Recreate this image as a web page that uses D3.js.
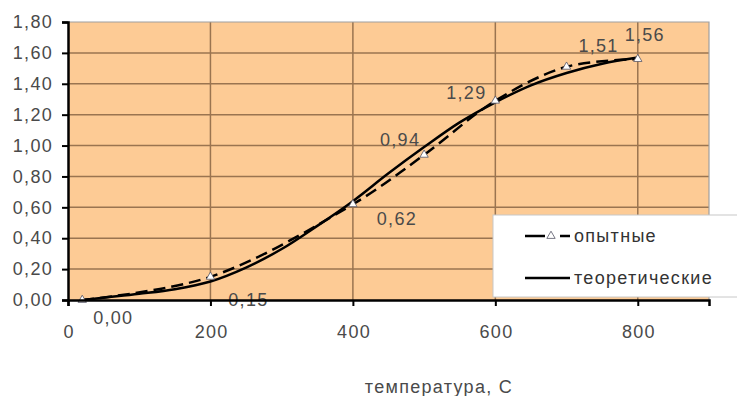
<!DOCTYPE html>
<html><head><meta charset="utf-8">
<script src="https://cdn.jsdelivr.net/npm/d3@7"></script>
<style>
body{margin:0;background:#fff;}
text{font-family:"Liberation Sans",Arial,sans-serif;letter-spacing:1.3px;}
</style></head>
<body><svg id="c" width="737" height="396"></svg>
<script>
// Data
const expX = [20, 200, 400, 500, 600, 700, 800];
const expY = [0.00, 0.15, 0.62, 0.94, 1.29, 1.51, 1.56];
const expLabels = ["0,00", "0,15", "0,62", "0,94", "1,29", "1,51", "1,56"];
const theoX = [20, 100, 150, 200, 250, 300, 350, 400, 450, 500, 550, 600, 650, 700, 750, 800];
const theoY = [0.00, 0.04, 0.07, 0.12, 0.21, 0.33, 0.48, 0.64, 0.82, 0.99, 1.15, 1.28, 1.39, 1.47, 1.53, 1.57];
const xTicks = [0, 200, 400, 600, 800];
const yTicks = [0, 0.2, 0.4, 0.6, 0.8, 1.0, 1.2, 1.4, 1.6, 1.8];
const seriesNames = ["опытные", "теоретические"];
const xTitle = "температура, С";

// label offsets (layout only)
const labelOffsets = [[31,17],[38,23],[44,14],[-24,-15],[-29,-8],[32,-21],[7,-25]];

const FS = 18;
const TXT = "#4a4a4a";
const svg = d3.select("#c");
const L = 68, R = 709, T = 22, B = 300;
const x = d3.scaleLinear().domain([0, 900]).range([L, R]);
const y = d3.scaleLinear().domain([0, 1.8]).range([B, T]);
const fmt = v => d3.format(".2f")(v).replace(".", ",");

svg.append("rect").attr("x", L).attr("y", T).attr("width", R - L).attr("height", B - T)
  .attr("fill", "#fdcb95");
svg.append("g").selectAll("line").data(yTicks.slice(1, -1)).join("line")
  .attr("x1", L).attr("x2", R).attr("y1", d => y(d)).attr("y2", d => y(d))
  .attr("stroke", "#9a7450").attr("stroke-width", 1.5);
svg.append("g").selectAll("line").data(xTicks.slice(1)).join("line")
  .attr("y1", T).attr("y2", B).attr("x1", d => x(d)).attr("x2", d => x(d))
  .attr("stroke", "#9a7450").attr("stroke-width", 1.5);
svg.append("path").attr("d", `M${L},${T}H${R}V${B}`).attr("fill", "none")
  .attr("stroke", "#a0a0a0").attr("stroke-width", 1.2);

// Data labels (beneath axes)
svg.append("g").selectAll("text").data(expX.map((v, i) => i)).join("text")
  .attr("x", i => x(expX[i]) + labelOffsets[i][0])
  .attr("y", i => y(expY[i]) + labelOffsets[i][1] + 6.5)
  .attr("text-anchor", "middle").attr("font-size", FS).attr("fill", TXT)
  .text(i => expLabels[i]);

// Curves
const line = d3.line().x(d => x(d[0])).y(d => y(d[1])).curve(d3.curveCatmullRom.alpha(0.5));
svg.append("path").datum(theoX.map((v, i) => [v, theoY[i]]))
  .attr("d", line).attr("fill", "none").attr("stroke", "#000").attr("stroke-width", 2.5);
svg.append("path").datum(expX.map((v, i) => [v, expY[i]]))
  .attr("d", line).attr("fill", "none").attr("stroke", "#000").attr("stroke-width", 2.5)
  .attr("stroke-dasharray", "12,6");

const tri = d3.symbol().type(d3.symbolTriangle).size(30);
svg.append("g").selectAll("path").data(expX.map((v, i) => [v, expY[i]])).join("path")
  .attr("d", tri).attr("transform", d => `translate(${x(d[0])},${y(d[1])})`)
  .attr("fill", "#fff").attr("stroke", "#556").attr("stroke-width", 0.8);

// Axes
const yAxis = d3.axisLeft(y).tickValues(yTicks).tickFormat(fmt).tickSize(6).tickPadding(9);
const gy = svg.append("g").attr("transform", `translate(${L},0)`).call(yAxis);
gy.select(".domain").attr("stroke", "#000").attr("stroke-width", 2.5);
gy.selectAll(".tick line").attr("stroke", "#000").attr("stroke-width", 2);
gy.selectAll(".tick text").attr("font-size", FS).attr("fill", TXT)
  .attr("font-family", "Liberation Sans, Arial, sans-serif");

const xAxis = d3.axisBottom(x).tickValues(xTicks).tickFormat(d3.format("d")).tickSize(6).tickPadding(19);
const gx = svg.append("g").attr("transform", `translate(0,${B})`).call(xAxis);
gx.select(".domain").attr("stroke", "#000").attr("stroke-width", 2.5);
gx.selectAll(".tick line").attr("stroke", "#000").attr("stroke-width", 2);
gx.selectAll(".tick text").attr("font-size", FS).attr("fill", TXT).attr("dx", "0.65")
  .attr("font-family", "Liberation Sans, Arial, sans-serif");

svg.append("text").attr("x", 439).attr("y", 393).attr("text-anchor", "middle")
  .attr("font-size", FS).attr("fill", TXT).text(xTitle);

// Legend
const lg = svg.append("g");
lg.append("rect").attr("x", 493).attr("y", 215).attr("width", 260).attr("height", 82)
  .attr("fill", "#fff").attr("stroke", "#c8c8c8").attr("stroke-width", 1);
lg.append("line").attr("x1", 525).attr("x2", 570).attr("y1", 236).attr("y2", 236)
  .attr("stroke", "#000").attr("stroke-width", 2.5).attr("stroke-dasharray", "20,15,10");
lg.append("path").attr("d", tri).attr("transform", "translate(551,236)")
  .attr("fill", "#fff").attr("stroke", "#556").attr("stroke-width", 0.8);
lg.append("text").attr("x", 574).attr("y", 242).attr("font-size", FS).attr("fill", "#333").text(seriesNames[0]);
lg.append("line").attr("x1", 525).attr("x2", 570).attr("y1", 278).attr("y2", 278)
  .attr("stroke", "#000").attr("stroke-width", 2.5);
lg.append("text").attr("x", 574).attr("y", 284).attr("font-size", FS).attr("fill", "#333").text(seriesNames[1]);
</script></body></html>
